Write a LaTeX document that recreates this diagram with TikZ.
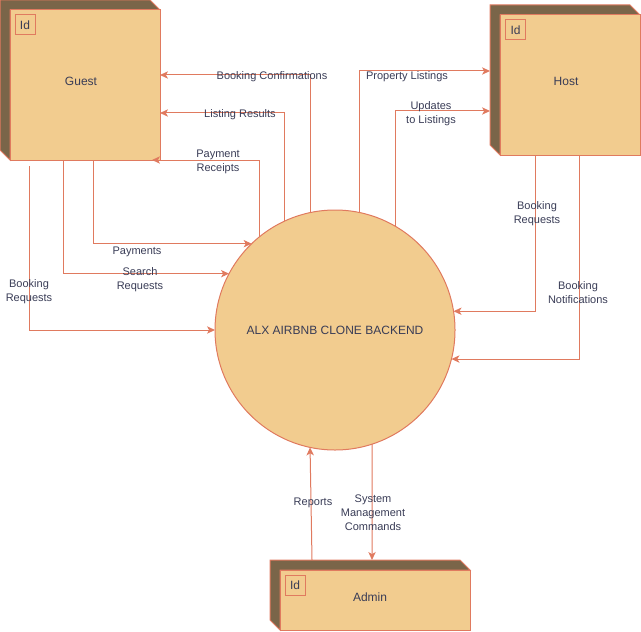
\documentclass[tikz,border=0pt]{standalone}
\usepackage{fontspec}
\setmainfont{Liberation Sans}
\usetikzlibrary{arrows.meta,calc}
\definecolor{boxfill}{HTML}{F2CC8F}
\definecolor{boxline}{HTML}{E07A5F}
\definecolor{boxdark}{HTML}{7A6549}
\definecolor{txt}{HTML}{393C56}
\begin{document}
\begin{tikzpicture}[x=0.75pt,y=-0.75pt,
  every node/.style={text=txt},
  extent/.style={inner sep=0pt, outer sep=0pt, anchor=north west},
  face/.style={draw=boxline, fill=boxfill, line width=0.75pt, inner sep=0pt, outer sep=0pt, anchor=north west},
  side/.style={draw=boxline, fill=boxdark, line width=0.75pt, line join=miter},
  idbox/.style={draw=boxline, line width=0.75pt, minimum size=15pt, inner sep=0pt, font=\fontsize{9}{10}\selectfont},
  title/.style={font=\fontsize{9}{11}\selectfont},
  lbl/.style={font=\fontsize{8.25}{10.5}\selectfont, align=center, inner sep=0pt, yshift=-1.1pt},
  flow/.style={draw=boxline, line width=0.75pt, -{Stealth[length=6pt,width=5.5pt,inset=1.6pt]}}
]
\useasboundingbox (0,0) rectangle (641,631);

% Guest
\node[extent, minimum width=120pt, minimum height=120pt] (guest) at (0,0) {};
\path[side] (0,0) -- (150,0) -- (160,10) -- (10,10) -- (10,160) -- (0,150) -- cycle;
\node[face, minimum width=112.5pt, minimum height=112.5pt] (guestface) at (10,10) {};
\node[idbox] (guestid) at (25,25) {Id};
\node[title] (guesttext) at (81,81) {Guest};

% Host
\node[extent, minimum width=112.5pt, minimum height=112.5pt] (host) at (490,5) {};
\path[side] (490,5) -- (630,5) -- (640,15) -- (500,15) -- (500,155) -- (490,145) -- cycle;
\node[face, minimum width=105pt, minimum height=105pt] (hostface) at (500,15) {};
\node[idbox] (hostid) at (515.5,30) {Id};
\node[title] (hosttext) at (566,81) {Host};

% Admin
\node[extent, minimum width=150pt, minimum height=52.5pt] (admin) at (270,560) {};
\path[side] (270,560) -- (460,560) -- (470,570) -- (280,570) -- (280,630) -- (270,620) -- cycle;
\node[face, minimum width=142.5pt, minimum height=45pt] (adminface) at (280,570) {};
\node[idbox] (adminid) at (295,585) {Id};
\node[title] (admintext) at (370,597) {Admin};

% Core process
\node[circle, draw=boxline, fill=boxfill, line width=0.75pt, minimum size=180pt, inner sep=0pt, outer sep=0pt, title] (core) at (335,330) {ALX AIRBNB CLONE BACKEND};

% Guest flows
\draw[flow] (core.102) |- (guest.east |- 0,75);
\draw[flow] (core.115.2) |- (guest.east |- 0,113);
\draw[flow] (core.129.9) |- ($(guest.south east)+(-8,0)$);
\draw[flow] (guest.south -| 93,0) |- (core.134.9);
\draw[flow] (guest.south -| 63,0) |- (core.152.2);
\draw[flow] ($(guest.south -| 29,0)+(0,6)$) |- (core.west);

% Host flows
\draw[flow] (core.78) |- (host.west |- 0,71);
\draw[flow] (core.60.55) |- (host.west |- 0,111);
\draw[flow] (host.south -| 535,0) |- (core.9.6);
\draw[flow] (host.south -| 579,0) |- (core.-14.5);

% Admin flows
\draw[flow] (admin.north -| 312,0) -- (core.258.95);
\draw[flow] (core.-72.04) -- (admin.north -| 372,0);

% Labels
\node[lbl] (l1) at (272,75.5) {Booking Confirmations};
\node[lbl] (l2) at (240,113) {Listing Results};
\node[lbl] (l3) at (218,160) {Payment\\Receipts};
\node[lbl] (l4) at (137,250) {Payments};
\node[lbl] (l5) at (140,278) {Search\\Requests};
\node[lbl] (l6) at (29,290) {Booking\\Requests};
\node[lbl] (l7) at (407,75) {Property Listings};
\node[lbl] (l8) at (431,112) {Updates\\to Listings};
\node[lbl] (l9) at (537,212) {Booking\\Requests};
\node[lbl] (l10) at (578,291) {Booking\\Notifications};
\node[lbl] (l11) at (313,501) {Reports};
\node[lbl] (l12) at (373,511) {System\\Management\\Commands};
\end{tikzpicture}
\end{document}
